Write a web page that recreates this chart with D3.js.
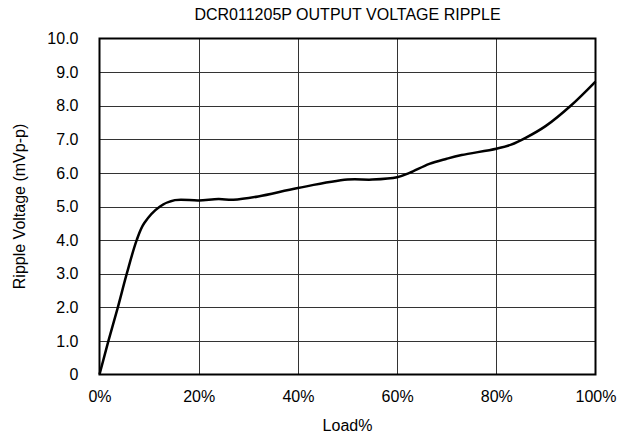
<!DOCTYPE html>
<html>
<head>
<meta charset="utf-8">
<script src="https://cdn.jsdelivr.net/npm/d3@7"></script>
<style>
  html, body { margin: 0; padding: 0; background: #fff; }
  svg { display: block; font-family: "Liberation Sans", Arial, sans-serif; }
</style>
</head>
<body>
<svg id="chart" width="626" height="441"></svg>
<script>
const loadPct = [0, 1.8, 3.7, 5.5, 7.5, 9.0, 12.2, 15.2, 20, 24, 27, 32, 40, 50, 55, 60, 62.5, 66.5, 70, 73, 80, 83, 86, 90, 95, 100];
const rippleMv = [0, 1.0, 2.0, 3.0, 4.0, 4.5, 5.0, 5.19, 5.18, 5.22, 5.2, 5.3, 5.55, 5.8, 5.8, 5.87, 6.0, 6.27, 6.42, 6.53, 6.72, 6.84, 7.05, 7.4, 8.0, 8.72];
const xTicks = [0, 20, 40, 60, 80, 100];
const yTicks = [0, 1, 2, 3, 4, 5, 6, 7, 8, 9, 10];
const titleText = "DCR011205P OUTPUT VOLTAGE RIPPLE";
const xLabel = "Load%";
const yLabel = "Ripple Voltage (mVp-p)";

const svg = d3.select("#chart");
const m = { left: 99.5, right: 595.5, top: 38.5, bottom: 374.5 };
const x = d3.scaleLinear().domain([0, 100]).range([m.left, m.right]);
const y = d3.scaleLinear().domain([0, 10]).range([m.bottom, m.top]);
const FS = 16;
const FF = "Liberation Sans, Arial, sans-serif";

// grid
svg.append("g").selectAll("line").data(yTicks.slice(1, -1)).join("line")
  .attr("x1", m.left).attr("x2", m.right)
  .attr("y1", d => Math.round(y(d)) + 0.5).attr("y2", d => Math.round(y(d)) + 0.5)
  .attr("stroke", "#333").attr("stroke-width", 1);
svg.append("g").selectAll("line").data(xTicks.slice(1, -1)).join("line")
  .attr("y1", m.top).attr("y2", m.bottom)
  .attr("x1", d => Math.round(x(d)) + 0.5).attr("x2", d => Math.round(x(d)) + 0.5)
  .attr("stroke", "#333").attr("stroke-width", 1);

// border
svg.append("rect").attr("x", m.left).attr("y", m.top)
  .attr("width", m.right - m.left).attr("height", m.bottom - m.top)
  .attr("fill", "none").attr("stroke", "#000").attr("stroke-width", 2);

const yAxis = svg.append("g").attr("transform", `translate(${m.left},0)`)
  .call(d3.axisLeft(y).tickValues(yTicks).tickSize(0).tickPadding(21)
    .tickFormat(d => d === 0 ? "0" : d3.format(".1f")(d)));
yAxis.select(".domain").remove();
yAxis.selectAll("text").attr("font-size", FS).attr("fill", "#000").attr("font-family", FF);

const xAxis = svg.append("g").attr("transform", `translate(0,${m.bottom})`)
  .call(d3.axisBottom(x).tickValues(xTicks).tickSize(0).tickPadding(16)
    .tickFormat(d => d + "%"));
xAxis.select(".domain").remove();
xAxis.selectAll("text").attr("font-size", FS).attr("fill", "#000").attr("font-family", FF);

// data line
const data = loadPct.map((v, i) => [v, rippleMv[i]]);
svg.append("path").datum(data)
  .attr("fill", "none").attr("stroke", "#000").attr("stroke-width", 2.5)
  .attr("stroke-linejoin", "round")
  .attr("d", d3.line().x(d => x(d[0])).y(d => y(d[1])).curve(d3.curveCatmullRom.alpha(0.5)));

// titles
svg.append("text").attr("x", (m.left + m.right) / 2).attr("y", 20)
  .attr("text-anchor", "middle").attr("font-size", FS).attr("font-family", FF).text(titleText);
svg.append("text").attr("x", (m.left + m.right) / 2).attr("y", 431)
  .attr("text-anchor", "middle").attr("font-size", FS).attr("font-family", FF).text(xLabel);
svg.append("text").attr("transform", `translate(25,${(m.top + m.bottom) / 2}) rotate(-90)`)
  .attr("text-anchor", "middle").attr("font-size", FS).attr("font-family", FF).text(yLabel);
</script>
</body>
</html>
